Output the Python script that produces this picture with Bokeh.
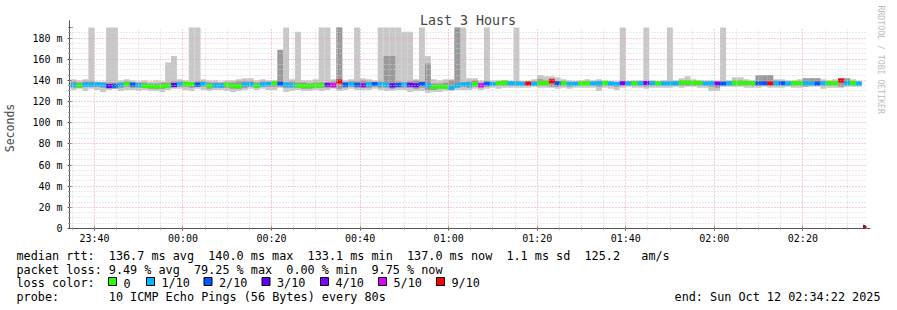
from datetime import datetime, timedelta
from bokeh.plotting import figure
from bokeh.layouts import column
from bokeh.models import (FixedTicker, DatetimeTickFormatter, Arrow, NormalHead, Title,
                          Range1d, ColumnDataSource)
from bokeh.core.properties import value
from bokeh.embed import file_html
from bokeh.resources import INLINE

# ---------------- data ----------------
END_TIME = datetime(2025, 10, 12, 2, 34, 22)
START_TIME = END_TIME - timedelta(hours=3)
FIRST_STEP = datetime(2025, 10, 11, 23, 34, 38)
STEP_SECONDS = 80

median_ms = [
    135.6, 135.2, 135.8, 136.0, 136.2, 135.9, 134.8, 135.0, 135.8, 136.6,
    136.2, 135.6, 134.6, 134.8, 133.9, 134.5, 135.1, 135.7, 136.4, 136.8,
    136.3, 136.0, 136.6, 134.8, 135.5, 135.2, 135.9, 135.0, 134.5, 136.2,
    136.4, 135.0, 136.1, 136.8, 137.2, 136.9, 136.0, 135.4, 135.2, 134.6,
    135.0, 135.3, 135.6, 135.8, 135.5, 139.0, 136.0, 136.3, 135.8, 135.4,
    136.0, 136.5, 136.2, 135.9, 135.3, 135.6, 136.1, 135.8, 135.5, 136.6,
    135.4, 133.6, 134.2, 134.0, 133.1, 135.2, 136.4, 136.0, 136.6, 135.5,
    136.8, 136.5, 137.4, 137.9, 137.2, 137.0, 136.9, 137.0, 136.8, 137.4,
    137.6, 139.2, 137.2, 137.3, 136.8, 136.9, 137.0, 137.3, 137.0, 137.2,
    137.5, 137.1, 136.9, 137.2, 137.3, 137.4, 137.2, 137.6, 137.3, 137.0,
    137.1, 137.0, 137.2, 137.8, 138.0, 137.9, 137.7, 137.0, 137.2, 137.1,
    136.9, 137.4, 137.6, 137.5, 137.6, 137.3, 137.1, 137.2, 137.0, 137.4,
    137.2, 137.1, 137.5, 137.4, 137.2, 137.1, 137.0, 137.3, 137.5, 137.4,
    140.0, 137.5, 137.6, 137.0,
]

loss_count = [
    1, 0, 1, 1, 1, 1, 3, 2, 1, 0,
    2, 1, 0, 0, 0, 0, 0, 3, 1, 0,
    0, 2, 1, 0, 1, 1, 0, 0, 0, 1,
    1, 0, 1, 1, 0, 2, 1, 1, 0, 0,
    0, 0, 0, 4, 5, 9, 2, 1, 2, 4,
    1, 2, 1, 1, 3, 2, 1, 3, 3, 2,
    1, 0, 0, 0, 1, 1, 1, 1, 0, 5,
    2, 1, 0, 0, 1, 1, 1, 9, 1, 0,
    0, 9, 2, 0, 1, 1, 0, 0, 1, 1,
    0, 1, 1, 4, 1, 0, 1, 4, 1, 0,
    1, 1, 1, 0, 0, 0, 0, 1, 1, 4,
    2, 1, 0, 0, 0, 0, 2, 2, 9, 1,
    2, 1, 0, 0, 1, 1, 2, 1, 0, 0,
    9, 1, 0, 1,
]

smoke_max = [
    141, 140, 141, 200, 139, 139, 200, 200, 140, 141,
    140, 139, 140, 139, 140, 139, 157, 163, 141, 140,
    200, 200, 141, 140, 140, 139, 140, 140, 141, 142,
    142, 140, 141, 140, 140, 141, 200, 141, 186, 140,
    140, 141, 200, 200, 141, 200, 140, 141, 200, 142,
    141, 140, 200, 200, 200, 200, 186, 186, 141, 200,
    163, 141, 140, 141, 141, 200, 200, 142, 142, 140,
    200, 140, 140, 139, 139, 200, 139, 139, 141, 145,
    144, 144, 143, 141, 140, 139, 140, 141, 140, 141,
    140, 139, 139, 200, 139, 140, 140, 200, 140, 139,
    140, 200, 140, 142, 144, 141, 140, 140, 140, 139,
    200, 140, 143, 143, 141, 140, 143, 145, 145, 141,
    141, 140, 140, 141, 142, 142, 142, 141, 140, 141,
    142, 142, 141, 139,
]

smoke_min = [
    131, 132, 130, 132, 131, 129, 131, 132, 130, 131,
    131, 130, 131, 130, 130, 129, 131, 132, 132, 131,
    130, 132, 131, 130, 131, 131, 130, 129, 130, 131,
    132, 131, 132, 131, 131, 133, 129, 130, 131, 130,
    130, 131, 130, 131, 132, 130, 131, 132, 131, 131,
    131, 132, 131, 130, 130, 131, 131, 129, 130, 130,
    128, 129, 129, 130, 130, 131, 131, 131, 132, 131,
    132, 133, 132, 133, 133, 133, 133, 133, 134, 133,
    133, 133, 132, 133, 132, 133, 133, 133, 133, 130,
    133, 132, 131, 133, 134, 133, 133, 132, 133, 133,
    133, 133, 134, 133, 134, 134, 133, 133, 130, 130,
    134, 134, 134, 134, 133, 133, 133, 134, 133, 133,
    133, 134, 133, 133, 134, 134, 134, 132, 133, 133,
    133, 134, 134, 134,
]

core_hi = [
    139, 138, 139, 139, 138, 138, 138, 138, 138, 139,
    138, 138, 138, 137, 137, 138, 138, 139, 139, 138,
    138, 139, 139, 138, 138, 138, 138, 138, 139, 139,
    139, 138, 139, 138, 139, 169, 138, 139, 138, 138,
    137, 138, 138, 138, 139, 200, 138, 139, 139, 140,
    139, 138, 139, 163, 163, 139, 138, 139, 140, 139,
    156, 137, 137, 138, 140, 200, 138, 139, 140, 138,
    139, 138, 139, 140, 139, 139, 139, 139, 139, 141,
    140, 142, 139, 139, 138, 139, 139, 139, 139, 139,
    139, 139, 138, 139, 139, 139, 139, 139, 139, 139,
    139, 139, 139, 140, 140, 139, 139, 139, 139, 139,
    139, 139, 140, 140, 139, 139, 145, 145, 145, 140,
    139, 139, 139, 139, 142, 142, 142, 139, 139, 139,
    142, 142, 139, 139,
]

core_lo = [
    133, 133, 134, 134, 134, 133, 132, 132, 133, 134,
    133, 133, 133, 132, 132, 132, 133, 133, 134, 134,
    133, 134, 134, 132, 133, 133, 133, 132, 132, 133,
    134, 133, 134, 134, 134, 134, 133, 133, 133, 132,
    132, 133, 133, 133, 133, 132, 133, 134, 133, 133,
    133, 134, 133, 133, 132, 133, 133, 133, 132, 133,
    131, 131, 132, 132, 131, 133, 134, 133, 134, 133,
    134, 135, 135, 135, 135, 135, 135, 135, 135, 135,
    135, 134, 134, 135, 134, 135, 135, 135, 135, 134,
    135, 135, 134, 135, 135, 135, 135, 134, 135, 135,
    135, 135, 135, 135, 135, 135, 135, 135, 134, 133,
    135, 135, 135, 135, 135, 135, 135, 135, 135, 135,
    135, 135, 135, 135, 134, 135, 135, 135, 135, 135,
    134, 135, 135, 135,
]

loss_levels = [0, 1, 2, 3, 4, 5, 9]
loss_labels = ["0", "1/10", "2/10", "3/10", "4/10", "5/10", "9/10"]
loss_colors = ["#26ff00", "#00b8ff", "#0059ff", "#5e00ff", "#7e00ff", "#dd00ff", "#ff0000"]

y_ticks = [0, 20, 40, 60, 80, 100, 120, 140, 160, 180]
y_tick_labels = ["0", "20 m", "40 m", "60 m", "80 m", "100 m", "120 m", "140 m", "160 m", "180 m"]

stats_line1 = [("median rtt:", 0), ("136.7 ms avg", 13), ("140.0 ms max", 27),
               ("133.1 ms min", 41), ("137.0 ms now", 55), ("1.1 ms sd", 69),
               ("125.2", 80), ("am/s", 88)]
stats_line2 = [("packet loss:", 0), ("9.49 % avg", 13), ("79.25 % max", 25),
               ("0.00 % min", 38), ("9.75 % now", 50)]
probe_text = "10 ICMP Echo Pings (56 Bytes) every 80s"
end_text = "end: Sun Oct 12 02:34:22 2025"

# ---------------- helpers ----------------
EPOCH = datetime(1970, 1, 1)


def ms(dt):
    return (dt - EPOCH).total_seconds() * 1000.0


n = len(median_ms)
left = [ms(FIRST_STEP + timedelta(seconds=STEP_SECONDS * i)) for i in range(n)]
right = [l + STEP_SECONDS * 1000.0 for l in left]
color_of = dict(zip(loss_levels, loss_colors))
band_half = 1.9

src = ColumnDataSource(dict(
    left=left, right=right,
    smin=smoke_min, smax=smoke_max, clo=core_lo, chi=core_hi,
    mlo=[m - band_half for m in median_ms], mhi=[m + band_half for m in median_ms],
    col=[color_of[c] for c in loss_count],
))

MONO = "DejaVu Sans Mono"
W = 897
H_TOP = 246
H_BOT = 310 - H_TOP
FL, FR, FT, FB = 67, 868, 27, 228  # frame edges in canvas pixels

p = figure(width=W, height=H_TOP, x_axis_type="datetime",
           x_range=Range1d(ms(START_TIME), ms(END_TIME)), y_range=Range1d(0, 190),
           min_border_left=FL, min_border_right=W - FR, min_border_top=FT,
           min_border_bottom=H_TOP - FB,
           output_backend="svg", toolbar_location=None,
           background_fill_color="white", border_fill_color="white", outline_line_color=None)

# title
p.title.text = "Last 3 Hours"
p.title.align = "center"
p.title.text_font = MONO
p.title.text_font_size = "13.3px"
p.title.text_font_style = "normal"
p.title.standoff = 0

# smoke + median band
p.quad(left="left", right="right", bottom="smin", top="smax", source=src,
       fill_color="#c8c8c8", line_color=None)
p.quad(left="left", right="right", bottom="clo", top="chi", source=src,
       fill_color="#9a9a9a", line_color=None)
p.quad(left="left", right="right", bottom="mlo", top="mhi", source=src,
       fill_color="col", line_color=None)

# ticks / grids
start_tick = datetime(2025, 10, 11, 23, 40)
x_major = [ms(start_tick + timedelta(minutes=20 * i)) for i in range(9)]
x_minor = [ms(datetime(2025, 10, 11, 23, 35) + timedelta(minutes=5 * i)) for i in range(36)]
x_minor = [v for v in x_minor if v not in x_major]
y_minor = [v for v in range(0, 191, 5) if v not in y_ticks]

xt = FixedTicker(ticks=x_major, minor_ticks=x_minor)
yt = FixedTicker(ticks=y_ticks, minor_ticks=y_minor)
p.xaxis.ticker = xt
p.yaxis.ticker = yt
p.xgrid.ticker = xt
p.ygrid.ticker = yt

fmt = "%H:%M"
p.xaxis.formatter = DatetimeTickFormatter(milliseconds=fmt, seconds=fmt, minsec=fmt, minutes=fmt,
                                          hourmin=fmt, hours=fmt, days=fmt, months=fmt, years=fmt)
p.yaxis.major_label_overrides = {t: lab for t, lab in zip(y_ticks, y_tick_labels)}

for g in (p.xgrid, p.ygrid):
    g.grid_line_color = "#ee9a9a"
    g.grid_line_dash = "1 2"
    g.grid_line_width = 1
    g.minor_grid_line_color = "#d4d4d4"
    g.minor_grid_line_dash = "1 2"
    g.level = "annotation"

for ax in (p.xaxis, p.yaxis):
    ax.axis_line_color = "#555555"
    ax.major_tick_line_color = "#555555"
    ax.minor_tick_line_color = "#555555"
    ax.major_label_text_font = MONO
    ax.major_label_text_font_size = "10px"
    ax.major_label_text_color = "black"

p.yaxis.major_tick_out = 2
p.yaxis.major_tick_in = 2
p.yaxis.minor_tick_out = 1
p.yaxis.minor_tick_in = 1
p.yaxis.major_label_standoff = 5
p.yaxis.axis_label = "Seconds"
p.yaxis.axis_label_text_font = MONO
p.yaxis.axis_label_text_font_size = "11.5px"
p.yaxis.axis_label_text_font_style = "normal"
p.yaxis.axis_label_standoff = 12
p.xaxis.major_tick_out = 2
p.xaxis.major_tick_in = 2
p.xaxis.minor_tick_out = 1
p.xaxis.minor_tick_in = 1
p.xaxis.major_label_standoff = 2

# vertical credit text on the right
p.add_layout(Title(text="RRDTOOL / TOBI OETIKER", align="left", offset=-22, standoff=19,
                   text_font=MONO, text_font_size="8.2px", text_font_style="normal",
                   text_color="#bdbdbd"), "right")

# arrows
arrow_col = "#8b1a1a"
p.add_layout(Arrow(end=NormalHead(size=7, fill_color=arrow_col, line_color=arrow_col),
                   x_start=ms(START_TIME), y_start=190, x_end=ms(START_TIME), y_end=196.8,
                   line_color="#555555", line_width=1))
p.add_layout(Arrow(end=NormalHead(size=7, fill_color=arrow_col, line_color=arrow_col),
                   x_start=ms(END_TIME), y_start=0, x_end=ms(END_TIME + timedelta(seconds=54)), y_end=0,
                   line_color="#555555", line_width=1))

# ---------------- legend block (pixel coordinates of the page) ----------------
q = figure(width=W, height=H_BOT, x_range=Range1d(0, W), y_range=Range1d(310, H_TOP),
           min_border=0, x_axis_location=None, y_axis_location=None,
           output_backend="svg", toolbar_location=None,
           background_fill_color="white", border_fill_color="white", outline_line_color=None)
q.xgrid.visible = False
q.ygrid.visible = False
for fig in (p, q):
    try:
        fig.frame_align = False
    except Exception:
        pass

CW = 7.1
TX = 16
ROW = [255, 269, 282.5, 296.5]   # text baselines of the four legend rows
tx, ty, tt, ta = [], [], [], []
for text, col in stats_line1:
    tx.append(TX + col * CW); ty.append(ROW[0]); tt.append(text); ta.append("left")
for text, col in stats_line2:
    tx.append(TX + col * CW); ty.append(ROW[1]); tt.append(text); ta.append("left")
tx.append(TX); ty.append(ROW[2]); tt.append("loss color:"); ta.append("left")
box_x = [108, 146, 203.5, 261.5, 320, 378, 436]
for bx, t in zip(box_x, loss_labels):
    tx.append(bx + 15); ty.append(ROW[2]); tt.append(t); ta.append("left")
tx.append(TX); ty.append(ROW[3]); tt.append("probe:"); ta.append("left")
tx.append(TX + 13 * CW); ty.append(ROW[3]); tt.append(probe_text); ta.append("left")
tx.append(880); ty.append(ROW[3]); tt.append(end_text); ta.append("right")

q.text(x="x", y="y", text="t", text_align="a",
       source=ColumnDataSource(dict(x=tx, y=ty, t=tt, a=ta)),
       text_font=value(MONO), text_font_size=value("11.8px"), text_baseline="alphabetic",
       text_color="black")
q.quad(left=box_x, right=[b + 8 for b in box_x], top=[277] * len(box_x),
       bottom=[285] * len(box_x), fill_color=loss_colors, line_color="black", line_width=1)

layout = column(p, q, spacing=0)
open("out.html", "w").write(file_html(layout, INLINE))
